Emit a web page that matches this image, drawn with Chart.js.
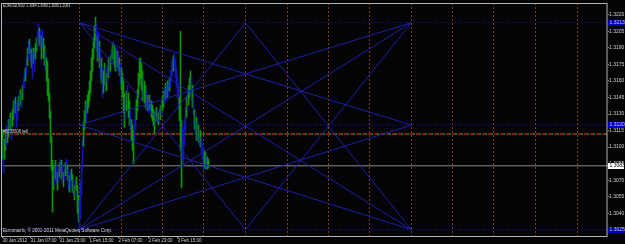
<!DOCTYPE html>
<html lang="en">
<head>
<meta charset="UTF-8">
<title>EURUSD,M30</title>
<script src="https://cdn.jsdelivr.net/npm/chart.js"></script>
<style>
    html, body { margin: 0; padding: 0; background: #000; }
    #wrap { width: 625px; height: 244px; position: relative; }
</style>
</head>
<body>
<div id="wrap"><canvas id="mt4"></canvas></div>
<script>
// M30 bars, one per index
var barHigh = [
    1.3116,1.3106,1.3107,1.3115,1.3119,1.3116,1.3125,1.3128,1.3131,1.3127,
    1.3134,1.3142,1.3143,1.3145,1.3138,1.3142,1.3146,1.3149,1.3152,1.3149,
    1.3156,1.3162,1.3169,1.3172,1.3180,1.3190,1.3196,1.3198,1.3192,1.3189,
    1.3185,1.3190,1.3187,1.3194,1.3199,1.3205,1.3212,1.3208,1.3205,1.3201,
    1.3207,1.3199,1.3192,1.3187,1.3181,1.3178,1.3162,1.3149,1.3133,1.3110,
    1.3088,1.3083,1.3079,1.3088,1.3083,1.3077,1.3080,1.3086,1.3089,1.3088,
    1.3083,1.3077,1.3080,1.3086,1.3089,1.3084,1.3079,1.3074,1.3077,1.3080,
    1.3075,1.3070,1.3065,1.3071,1.3073,1.3065,1.3056,1.3052,1.3070,1.3083,
    1.3107,1.3122,1.3133,1.3142,1.3138,1.3147,1.3151,1.3160,1.3169,1.3181,
    1.3189,1.3199,1.3210,1.3218,1.3212,1.3201,1.3205,1.3196,1.3189,1.3181,
    1.3172,1.3169,1.3176,1.3172,1.3167,1.3174,1.3181,1.3178,1.3183,1.3189,
    1.3194,1.3196,1.3192,1.3189,1.3190,1.3187,1.3185,1.3181,1.3176,1.3172,
    1.3167,1.3160,1.3149,1.3145,1.3151,1.3156,1.3149,1.3142,1.3133,1.3125,
    1.3120,1.3115,1.3125,1.3138,1.3143,1.3152,1.3167,1.3180,1.3181,1.3176,
    1.3169,1.3163,1.3160,1.3156,1.3151,1.3147,1.3145,1.3147,1.3143,1.3142,
    1.3138,1.3134,1.3131,1.3133,1.3136,1.3133,1.3131,1.3134,1.3138,1.3142,
    1.3145,1.3151,1.3154,1.3158,1.3156,1.3160,1.3158,1.3163,1.3170,1.3178,
    1.3181,1.3183,1.3185,1.3180,1.3172,1.3165,1.3156,1.3145,1.3205,1.3124,
    1.3119,1.3115,1.3125,1.3136,1.3145,1.3152,1.3156,1.3163,1.3169,1.3162,
    1.3156,1.3145,1.3134,1.3131,1.3127,1.3124,1.3120,1.3116,1.3115,1.3109,
    1.3104,1.3100,1.3097,1.3095,1.3093,1.3091,1.3089
];
var barLow = [
    1.3088,1.3077,1.3089,1.3097,1.3101,1.3104,1.3109,1.3113,1.3116,1.3107,
    1.3119,1.3125,1.3128,1.3131,1.3118,1.3124,1.3133,1.3134,1.3138,1.3136,
    1.3143,1.3149,1.3154,1.3160,1.3165,1.3174,1.3181,1.3185,1.3178,1.3172,
    1.3162,1.3176,1.3169,1.3180,1.3187,1.3190,1.3196,1.3192,1.3189,1.3180,
    1.3190,1.3181,1.3174,1.3169,1.3160,1.3147,1.3142,1.3126,1.3104,1.3079,
    1.3041,1.3061,1.3065,1.3071,1.3068,1.3061,1.3070,1.3073,1.3077,1.3071,
    1.3068,1.3064,1.3070,1.3074,1.3079,1.3070,1.3062,1.3059,1.3064,1.3070,
    1.3059,1.3056,1.3052,1.3055,1.3061,1.3040,1.3032,1.3025,1.3035,1.3056,
    1.3080,1.3101,1.3116,1.3122,1.3124,1.3131,1.3136,1.3142,1.3149,1.3160,
    1.3169,1.3180,1.3190,1.3196,1.3187,1.3178,1.3181,1.3172,1.3163,1.3158,
    1.3145,1.3149,1.3156,1.3152,1.3151,1.3158,1.3163,1.3165,1.3169,1.3174,
    1.3180,1.3176,1.3172,1.3169,1.3174,1.3172,1.3170,1.3165,1.3158,1.3152,
    1.3145,1.3131,1.3118,1.3125,1.3133,1.3138,1.3127,1.3120,1.3115,1.3106,
    1.3097,1.3085,1.3106,1.3116,1.3125,1.3133,1.3145,1.3156,1.3162,1.3152,
    1.3142,1.3145,1.3140,1.3136,1.3134,1.3133,1.3131,1.3134,1.3131,1.3127,
    1.3124,1.3120,1.3112,1.3120,1.3124,1.3122,1.3120,1.3124,1.3125,1.3129,
    1.3133,1.3136,1.3140,1.3143,1.3142,1.3145,1.3147,1.3151,1.3154,1.3160,
    1.3165,1.3169,1.3172,1.3163,1.3154,1.3145,1.3134,1.3124,1.3097,1.3063,
    1.3088,1.3082,1.3101,1.3115,1.3127,1.3134,1.3138,1.3145,1.3149,1.3142,
    1.3136,1.3129,1.3116,1.3111,1.3106,1.3107,1.3104,1.3102,1.3100,1.3095,
    1.3088,1.3079,1.3082,1.3080,1.3080,1.3080,1.3081
];
// G = up bar, B = down bar
var barDir = ('GBGGBGGBGB' + 'GGBGBBGBGB' + 'GBBGBGBGBG' + 'BGBGGBBGBG' + 'BGGBGGGGGG' +
    'GGBGBGBGBG' + 'BGBGBGBGBG' + 'GBGBGGGBBB' + 'BGGGBGGGGG' + 'GGGGBGBGBG' +
    'BGGBGBGBGB' + 'GBGGBGBGBG' + 'GGGBGBGGBG' + 'GGBBGGGGGG' + 'GBGGBGBGBG' +
    'GGGBGBGBGB' + 'GGBGBGBGBB' + 'BGBBBBBGGG' + 'BBBBGBGGGB' + 'GBGBGBGBGB' +
    'BBGGBGG').split('');

var priceTicks = [1.3220, 1.3205, 1.3190, 1.3175, 1.3160, 1.3145, 1.3130, 1.3115,
    1.3100, 1.3085, 1.3070, 1.3055, 1.3040];
var timeTicks = [0, 28, 57, 87, 116, 146, 175];
var timeLabels = ['30 Jan 2012', '31 Jan 07:00', '31 Jan 23:00', '1 Feb 15:00',
    '2 Feb 07:00', '2 Feb 23:00', '3 Feb 15:00'];

// drawn objects
var levels = [1.3213, 1.3120, 1.3025];
var fanTimes = [77, 243, 409];
// [time, level, time, level] (indexes into fanTimes / levels)
var fanLinks = [
    [0, 0, 2, 1], [0, 0, 2, 2], [0, 0, 1, 2],
    [0, 1, 2, 0], [0, 1, 2, 2],
    [0, 2, 2, 0], [0, 2, 2, 1], [0, 2, 1, 0],
    [1, 0, 2, 2], [1, 2, 2, 0]
];
var separators = [77, 119, 160, 201, 243, 285, 326, 367, 409, 450, 491, 533, 575];
var bidPrice = 1.3083;
var orderPrice = 1.3112;
var orderLabel = '#5735606 sell';
var titleText = 'EURUSD,M30  1.3084 1.3089 1.3080 1.3083';
var copyText = 'Euromaxfx, \u00a9 2001-2011 MetaQuotes Software Corp.';

var X_MIN = -0.5, X_MAX = 605.5;
var Y_MIN = 1.30193, Y_MAX = 1.32308;
var FONT = '"Liberation Sans", Arial, sans-serif';

// segments separated by a null point so one dataset holds many lines
function segments(list) {
    var pts = [];
    list.forEach(function (s) {
        pts.push({ x: s[0], y: s[1] }, { x: s[2], y: s[3] }, { x: s[2], y: null });
    });
    return pts;
}

function lineSet(data, color, dash, offset, width) {
    return {
        type: 'line',
        data: data,
        borderColor: color,
        borderWidth: width || 1,
        borderDash: dash || [],
        borderDashOffset: offset || 0,
        pointRadius: 0,
        tension: 0,
        fill: false,
        spanGaps: false
    };
}

var fanLines = segments(fanLinks.map(function (l) {
    return [fanTimes[l[0]], levels[l[1]], fanTimes[l[2]], levels[l[3]]];
}));
var levelLines = segments(levels.map(function (v) { return [X_MIN, v, X_MAX, v]; }));
var sepLines = segments(separators.map(function (t) { return [t, Y_MAX, t, Y_MIN]; }));

function fitText(ctx, text, x, y, w, size, color) {
    ctx.save();
    ctx.font = size + 'px ' + FONT;
    ctx.fillStyle = color;
    ctx.textBaseline = 'middle';
    var m = ctx.measureText(text).width;
    ctx.translate(x, y);
    ctx.scale(w / m, 1);
    ctx.fillText(text, 0, 0);
    ctx.restore();
}

var mt4Extras = {
    id: 'mt4Extras',
    beforeDraw: function (chart) {
        var ctx = chart.ctx;
        ctx.save();
        ctx.fillStyle = '#040406';
        ctx.fillRect(0, 0, chart.width, chart.height);
        ctx.restore();
    },
    afterDraw: function (chart) {
        var ctx = chart.ctx, a = chart.chartArea, y = chart.scales.y;
        ctx.save();
        // frame
        ctx.strokeStyle = '#b4b4b4';
        ctx.lineWidth = 1;
        ctx.strokeRect(a.left - 0.5, a.top + 0.5, a.right - a.left - 0.5, a.bottom - a.top);

        // price boxes on the right axis
        ctx.font = '5px ' + FONT;
        ctx.textBaseline = 'middle';
        levels.forEach(function (v) {
            var py = Math.round(y.getPixelForValue(v));
            ctx.fillStyle = '#0000b4';
            ctx.fillRect(a.right, py - 3, 17, 6);
            ctx.fillStyle = '#c8c8ff';
            ctx.fillText(v.toFixed(4), a.right + 1.5, py);
        });
        var by = Math.round(y.getPixelForValue(bidPrice));
        ctx.fillStyle = '#ffffff';
        ctx.fillRect(a.right, by - 3, 16, 6);
        ctx.fillStyle = '#000';
        ctx.fillText(bidPrice.toFixed(4), a.right + 1.5, by);

        // texts
        fitText(ctx, titleText, 3, 5, 67, 5.5, '#d8d8d8');
        fitText(ctx, copyText, 3, 231, 109, 4.8, '#d8d8d8');
        fitText(ctx, orderLabel, 3, y.getPixelForValue(orderPrice) - 2.5, 25, 4.8, '#d8d8d8');
        ctx.restore();
    }
};

var ctx = document.getElementById('mt4').getContext('2d');
var chart = new Chart(ctx, {
    type: 'bar',
    data: {
        datasets: [
            lineSet(fanLines, '#1e1ea6'),
            {
                type: 'bar',
                data: barHigh.map(function (h, i) { return { x: i, y: [barLow[i], h] }; }),
                backgroundColor: function (c) { return barDir[c.dataIndex] === 'G' ? '#0c960c' : '#1414b4'; },
                barThickness: 1,
                borderWidth: 0,
                borderSkipped: false
            },
            lineSet([{ x: X_MIN, y: orderPrice }, { x: X_MAX, y: orderPrice }], '#1e961e', [2, 4], -3, 1.5),
            lineSet([{ x: X_MIN, y: orderPrice }, { x: X_MAX, y: orderPrice }], '#c01414', [3, 3], 0, 1.5),
            lineSet([{ x: X_MIN, y: bidPrice }, { x: X_MAX, y: bidPrice }], '#8c8c8c'),
            lineSet(levelLines, '#1a1abe', [1, 2]),
            lineSet(sepLines, '#7a4018', [2, 2])
        ]
    },
    options: {
        responsive: true,
        maintainAspectRatio: false,
        animation: false,
        layout: { padding: { left: 2, top: 1, right: 0, bottom: 0 } },
        plugins: {
            legend: { display: false },
            tooltip: { enabled: false }
        },
        scales: {
            x: {
                type: 'linear',
                min: X_MIN,
                max: X_MAX,
                offset: false,
                border: { display: false },
                grid: { display: true, drawOnChartArea: false, offset: false, tickLength: 2, color: '#9a9a9a' },
                afterBuildTicks: function (s) { s.ticks = timeTicks.map(function (v) { return { value: v }; }); },
                afterFit: function (s) { s.height = 8; },
                ticks: {
                    autoSkip: false,
                    maxRotation: 0,
                    minRotation: 0,
                    align: 'start',
                    padding: 0,
                    color: '#d0d0d0',
                    font: { size: 4.5, family: FONT },
                    callback: function (v, i) { return timeLabels[i]; }
                }
            },
            y: {
                type: 'linear',
                position: 'right',
                min: Y_MIN,
                max: Y_MAX,
                border: { display: false },
                grid: { display: true, drawOnChartArea: false, tickLength: 1, color: '#9a9a9a' },
                afterBuildTicks: function (s) { s.ticks = priceTicks.map(function (v) { return { value: v }; }); },
                afterFit: function (s) { s.width = 17; },
                ticks: {
                    autoSkip: false,
                    padding: 0,
                    color: '#d0d0d0',
                    font: { size: 5, family: FONT },
                    callback: function (v) { return v.toFixed(4); }
                }
            }
        }
    },
    plugins: [mt4Extras]
});
</script>
</body>
</html>
